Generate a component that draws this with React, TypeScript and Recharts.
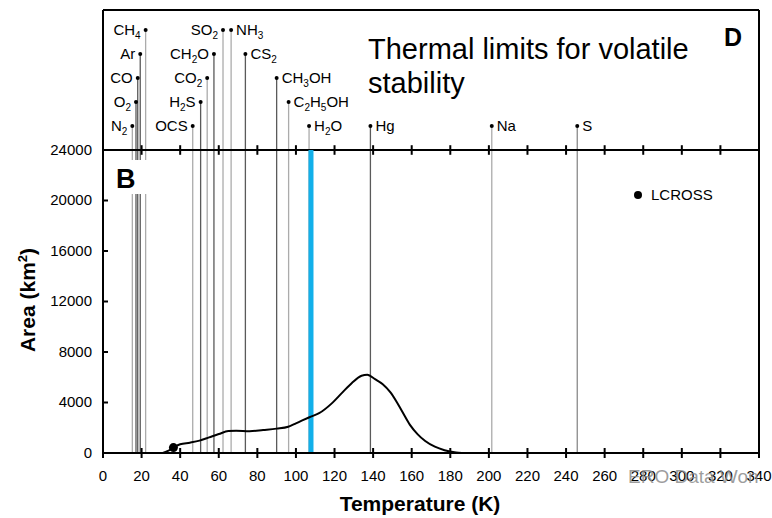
import React from 'react';
import { ComposedChart, Line, Scatter, XAxis, YAxis, ReferenceLine } from 'recharts';

// area of lunar polar cold traps vs. max temperature
const temperature = [31, 34, 36.5, 40, 45, 50, 55, 60, 65, 69, 76, 83, 90, 96, 100, 103, 107, 112, 119, 124, 129, 134, 137, 141, 145, 149, 152, 155, 159, 163, 167, 172, 177, 183, 186];
const area = [0, 180, 430, 690, 820, 980, 1240, 1500, 1740, 1770, 1720, 1820, 1930, 2080, 2350, 2560, 2830, 3150, 3990, 4780, 5550, 6120, 6200, 5850, 5450, 4800, 4100, 3300, 2250, 1500, 950, 500, 220, 40, 0];

const lcrossTemp = [36.5];
const lcrossArea = [430];

const volatileNames = ['N2', 'O2', 'CO', 'Ar', 'CH4', 'OCS', 'H2S', 'CO2', 'CH2O', 'SO2', 'NH3', 'CS2', 'CH3OH', 'C2H5OH', 'H2O', 'Hg', 'Na', 'S'];
const volatileTemps = [15.2, 17.1, 18.0, 19.3, 22.1, 46.5, 50.6, 54.0, 57.5, 62.2, 66.4, 73.8, 90.0, 96.2, 106.8, 138.6, 201.5, 245.8];

const xTicks = [0, 20, 40, 60, 80, 100, 120, 140, 160, 180, 200, 220, 240, 260, 280, 300, 320, 340];
const yTicks = [0, 4000, 8000, 12000, 16000, 20000, 24000];

const waterLimit = 107.8;

// layout of the label block on top
const labelRow = [0, 1, 2, 3, 4, 0, 1, 2, 3, 4, 4, 3, 2, 1, 0, 0, 0, 0];
const labelSide = ['l', 'l', 'l', 'l', 'l', 'l', 'l', 'l', 'l', 'l', 'r', 'r', 'r', 'r', 'r', 'r', 'r', 'r'];
const DARK = '#5a5a5a';
const LIGHT = '#ababab';
const lineColor = [LIGHT, DARK, DARK, DARK, LIGHT, LIGHT, DARK, LIGHT, DARK, LIGHT, LIGHT, DARK, DARK, LIGHT, LIGHT, DARK, LIGHT, '#8a8a8a'];

const PANEL_TOP = 24000;
const Y_MAX = 35089;
const ROW_STEP = 1900;
const rowLevel = (r: number) => PANEL_TOP + (r + 1) * ROW_STEP;

const FONT = '"Liberation Sans", Arial, sans-serif';

const curveData = temperature.map((t, i) => ({ t, area: area[i] }));
const lcrossData = lcrossTemp.map((t, i) => ({ t, area: lcrossArea[i] }));
const volatileData = volatileNames.map((name, i) => ({
  t: volatileTemps[i],
  area: rowLevel(labelRow[i]),
  name,
  side: labelSide[i],
}));

function Formula({ text, x, y, anchor }: { text: string; x: number; y: number; anchor: string }) {
  const parts = text.split(/(\d+)/).filter(Boolean);
  let sub = false;
  return (
    <text x={x} y={y} textAnchor={anchor} fontFamily={FONT} fontSize={15} fill="#000">
      {parts.map((p, i) => {
        const isSub = /\d/.test(p);
        const dy = isSub ? 4 : sub ? -4 : 0;
        sub = isSub;
        return (
          <tspan key={i} dy={dy} fontSize={isSub ? 10 : 15}>
            {p}
          </tspan>
        );
      })}
    </text>
  );
}

const VolatileMark = (props: any) => {
  const { cx, cy, payload } = props;
  const left = payload.side === 'l';
  return (
    <g>
      <circle cx={cx} cy={cy} r={2} fill="#000" />
      <Formula text={payload.name} x={left ? cx - 5 : cx + 5} y={cy + 5} anchor={left ? 'end' : 'start'} />
    </g>
  );
};

const LcrossDot = (props: any) => <circle cx={props.cx} cy={props.cy} r={4.5} fill="#000" />;

const XTick = ({ x, y, payload }: any) => (
  <g>
    <line x1={x} x2={x} y1={y - 5} y2={y + 5} stroke="#000" strokeWidth={2} />
    <text x={x} y={y + 28} textAnchor="middle" fontFamily={FONT} fontSize={15} fill="#000">
      {payload.value}
    </text>
  </g>
);

const YTickLeft = ({ x, y, payload }: any) => (
  <g>
    <line x1={x} x2={x + 5} y1={y} y2={y} stroke="#000" strokeWidth={2} />
    <text x={x - 11} y={y + 5} textAnchor="end" fontFamily={FONT} fontSize={15} fill="#000">
      {payload.value}
    </text>
  </g>
);

const YTickRight = ({ x, y }: any) => <line x1={x - 5} x2={x} y1={y} y2={y} stroke="#000" strokeWidth={2} />;

const XTitle = () => (
  <text x={420} y={511} textAnchor="middle" fontFamily={FONT} fontSize={21} fontWeight="bold" fill="#000">
    Temperature (K)
  </text>
);

const YTitle = () => (
  <text x={0} y={0} transform="translate(35 300) rotate(-90)" textAnchor="middle" fontFamily={FONT} fontSize={21} fontWeight="bold" fill="#000">
    Area (km<tspan dy={-8} fontSize={13}>2</tspan>
    <tspan dy={8}>)</tspan>
  </text>
);

export default function App() {
  return (
    <div style={{ position: 'absolute', left: 0, top: 0, width: 772, height: 518, background: '#fff' }}>
      <ComposedChart width={772} height={518} data={curveData} margin={{ top: 0, right: 0, bottom: 0, left: 0 }}>
        <XAxis
          xAxisId="top"
          orientation="top"
          type="number"
          domain={[0, 340]}
          height={10}
          tick={false}
          tickLine={false}
          axisLine={{ stroke: '#000', strokeWidth: 2 }}
        />
        <XAxis
          dataKey="t"
          type="number"
          domain={[0, 340]}
          ticks={xTicks}
          interval={0}
          height={65}
          tickSize={0}
          tickMargin={0}
          tickLine={false}
          tick={<XTick />}
          axisLine={{ stroke: '#000', strokeWidth: 2 }}
          label={<XTitle />}
        />
        <YAxis
          type="number"
          domain={[0, Y_MAX]}
          ticks={yTicks}
          interval={0}
          width={103}
          tickSize={0}
          tickMargin={0}
          tickLine={false}
          tick={<YTickLeft />}
          axisLine={{ stroke: '#000', strokeWidth: 2 }}
          label={<YTitle />}
        />
        <YAxis
          yAxisId="right"
          orientation="right"
          type="number"
          domain={[0, Y_MAX]}
          ticks={yTicks}
          interval={0}
          width={13}
          tickSize={0}
          tickMargin={0}
          tickLine={false}
          tick={<YTickRight />}
          axisLine={{ stroke: '#000', strokeWidth: 2 }}
        />
        {volatileData.map((v, i) => (
          <ReferenceLine
            key={v.name}
            segment={[{ x: v.t, y: 0 }, { x: v.t, y: v.area }]}
            stroke={lineColor[i]}
            strokeWidth={1.3}
          />
        ))}
        <ReferenceLine y={PANEL_TOP} stroke="#000" strokeWidth={2} />
        {xTicks.map((t) => (
          <ReferenceLine
            key={'mt' + t}
            segment={[{ x: t, y: PANEL_TOP - 380 }, { x: t, y: PANEL_TOP + 380 }]}
            stroke="#000"
            strokeWidth={2}
          />
        ))}
        <ReferenceLine
          segment={[{ x: waterLimit, y: 0 }, { x: waterLimit, y: PANEL_TOP }]}
          stroke="#12b0ea"
          strokeWidth={5}
        />
        <Line type="monotone" dataKey="area" stroke="#000" strokeWidth={2} dot={false} isAnimationActive={false} />
        <Scatter data={lcrossData} dataKey="area" name="LCROSS" shape={<LcrossDot />} isAnimationActive={false} />
        <Scatter data={volatileData} dataKey="area" shape={<VolatileMark />} isAnimationActive={false} />
      </ComposedChart>
      <svg width={772} height={518} style={{ position: 'absolute', left: 0, top: 0, pointerEvents: 'none' }}>
        <text x={368} y={59} fontFamily={FONT} fontSize={29} fill="#000">
          Thermal limits for volatile
        </text>
        <text x={368} y={93} fontFamily={FONT} fontSize={29} fill="#000">
          stability
        </text>
        <text x={724} y={46} fontFamily={FONT} fontSize={25} fontWeight="bold" fill="#000">
          D
        </text>
        <rect x={112} y={160} width={36} height={34} fill="#fff" />
        <text x={116} y={188} fontFamily={FONT} fontSize={27} fontWeight="bold" fill="#000">
          B
        </text>
        {/* legend */}
        <circle cx={638} cy={195} r={4} fill="#000" />
        <text x={651} y={200} fontFamily={FONT} fontSize={15} fill="#000">
          LCROSS
        </text>
        <text x={628} y={483} fontFamily={FONT} fontSize={19} fill="#8c8c8c" fillOpacity={0.85}>
          ERO Data Won
        </text>
      </svg>
    </div>
  );
}
